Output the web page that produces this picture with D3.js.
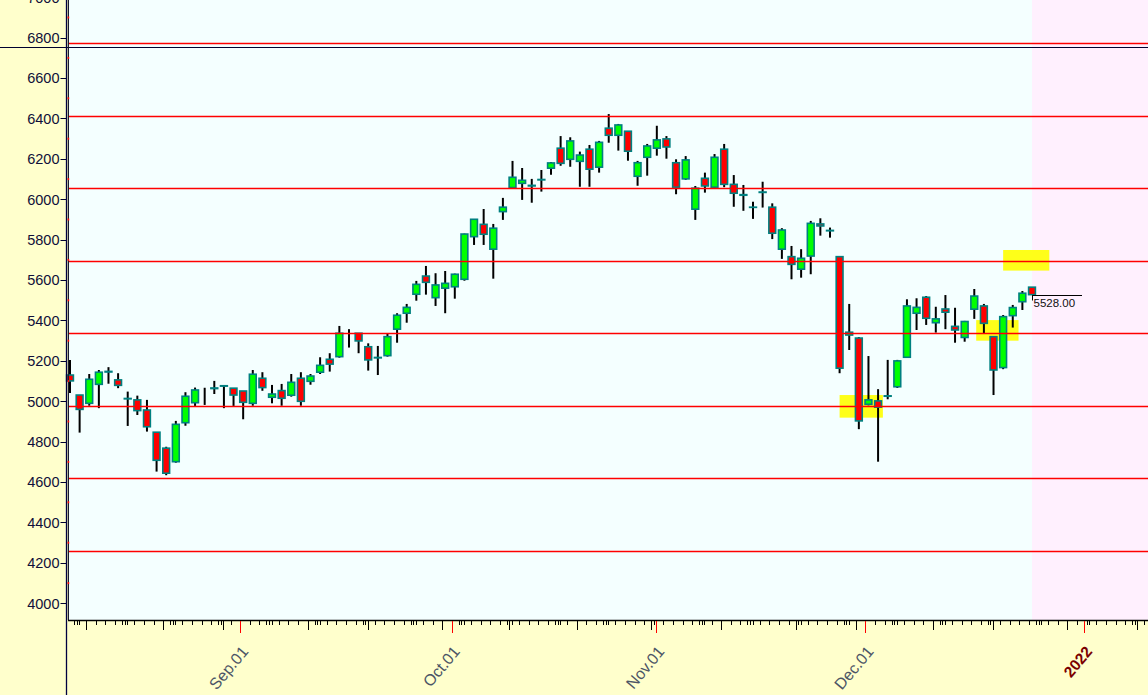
<!DOCTYPE html>
<html><head><meta charset="utf-8">
<script src="https://cdn.jsdelivr.net/npm/d3@7"></script>
<style>html,body{margin:0;padding:0;overflow:hidden;background:#ffffcc}</style>
</head><body><svg id="c" width="1148" height="695"></svg>
<script>
// ---------------- DATA ----------------
const dates = [
 "2021-08-06","2021-08-09","2021-08-10","2021-08-11","2021-08-12","2021-08-13","2021-08-16","2021-08-17","2021-08-18","2021-08-19",
 "2021-08-20","2021-08-23","2021-08-24","2021-08-25","2021-08-26","2021-08-27","2021-08-30","2021-08-31","2021-09-01","2021-09-02",
 "2021-09-03","2021-09-06","2021-09-07","2021-09-08","2021-09-09","2021-09-10","2021-09-13","2021-09-14","2021-09-15","2021-09-16",
 "2021-09-17","2021-09-20","2021-09-21","2021-09-22","2021-09-23","2021-09-24","2021-09-27","2021-09-28","2021-09-29","2021-09-30",
 "2021-10-01","2021-10-04","2021-10-05","2021-10-06","2021-10-07","2021-10-08","2021-10-11","2021-10-12","2021-10-13","2021-10-14",
 "2021-10-15","2021-10-18","2021-10-19","2021-10-20","2021-10-21","2021-10-22","2021-10-25","2021-10-26","2021-10-27","2021-10-28",
 "2021-10-29","2021-11-01","2021-11-02","2021-11-03","2021-11-04","2021-11-05","2021-11-08","2021-11-09","2021-11-10","2021-11-11",
 "2021-11-12","2021-11-15","2021-11-16","2021-11-17","2021-11-18","2021-11-19","2021-11-22","2021-11-23","2021-11-24","2021-11-25",
 "2021-11-26","2021-11-29","2021-11-30","2021-12-01","2021-12-02","2021-12-03","2021-12-06","2021-12-07","2021-12-08","2021-12-09",
 "2021-12-10","2021-12-13","2021-12-14","2021-12-15","2021-12-16","2021-12-17","2021-12-20","2021-12-21","2021-12-22","2021-12-23",
 "2021-12-24"];
const openV = [5130,5031,4990,5084,5148,5106,5014,5007,4957,4847, 4768,4701,4894,4993,5020,5066,5077,5065,5051,4990,
 5114,5020,5053,5030,5114,5099,5144,5208,5221,5300, 5337,5270,5217,5226,5357,5436,5530,5620,5513,5560,
 5567,5604,5815,5876,5753,5939,6058,6079,6069,6098, 6154,6253,6198,6188,6248,6159,6352,6317,6337,6114,
 6208,6253,6299,6181,6101,5951,6104,6060,6248,6074, 6023,5961,6036,5961,5753,5716,5654,5719,5878,5846,
 5716,5328,5313,4985,5002,5027,5072,5218,5436,5515, 5389,5457,5371,5316,5456,5472,5320,5167,5424,5493, 5565];
const highV = [5205,5031,5135,5155,5169,5139,5048,5028,5007,4847, 4775,4903,5045,5068,5067,5101,5077,5065,5051,5155,
 5144,5081,5086,5135,5144,5135,5218,5238,5373,5357, 5337,5287,5274,5337,5436,5482,5596,5670,5634,5645,
 5632,5830,5901,5952,5878,6007,6190,6155,6101,6145, 6185,6313,6307,6236,6269,6289,6422,6373,6337,6190,
 6274,6364,6313,6198,6214,6066,6132,6224,6274,6120, 6071,5988,6087,5980,5857,5769,5753,5893,5906,5860,
 5716,5482,5318,5224,5060,5205,5205,5505,5510,5521, 5468,5526,5463,5398,5556,5482,5320,5427,5477,5546, 5565];
const lowV = [5041,4845,4978,4966,5087,5065,4878,4932,4850,4652, 4634,4696,4879,4977,4982,5036,4966,4977,4911,4978,
 5052,4990,4978,5023,4978,5082,5135,5147,5216,5266, 5238,5152,5130,5221,5290,5389,5498,5528,5472,5436,
 5508,5597,5774,5774,5607,5898,6058,5997,5983,6038, 6122,6166,6161,6062,6062,6132,6280,6241,6191,6067,
 6117,6216,6201,6025,6096,5898,6033,6055,6060,5963, 5943,5903,5959,5803,5705,5604,5612,5629,5820,5810,
 5139,5254,4862,4980,4701,5010,5066,5216,5353,5378, 5340,5357,5290,5295,5408,5333,5031,5159,5365,5452, 5528];
const closeV = [5101,4960,5109,5144,5145,5079,5012,4954,4874,4708, 4644,4886,5025,5056,5020,5063,5075,5031,4995,5134,
 5068,5036,5015,5094,5000,5125,5178,5184,5337,5300, 5299,5205,5215,5320,5426,5465,5579,5589,5576,5584,
 5629,5828,5901,5827,5857,5961,6109,6094,6066,6096, 6180,6178,6289,6219,6149,6282,6317,6368,6238,6181,
 6264,6294,6259,6060,6195,6055,6066,6208,6074,6030, 6020,5960,6034,5832,5848,5678,5708,5881,5868,5844,
 5164,5342,4903,5007,4971,5025,5200,5472,5465,5411, 5408,5441,5353,5395,5521,5386,5155,5419,5464,5535, 5528];

const levels = [6773, 6413, 6054, 5695, 5337, 4978, 4620, 4261];   // horizontal red levels
const crosshairValue = 6754;
const lastPrice = 5528;
const highlightBoxes = [   // [fromIndex, toIndex, low, high]
  [97.0, 101.8, 5647, 5749],
  [94.2, 98.6, 5300, 5402],
  [80.0, 84.5, 4919, 5031]
];
const yTickValues = d3.range(4000, 7001, 200);
const yMinorValues = d3.range(4100, 7000, 200);
const monthLabels = [["2021-09-01","Sep.01"],["2021-10-01","Oct.01"],["2021-11-01","Nov.01"],["2021-12-01","Dec.01"],["2022-01-01","2022"]];

// ---------------- CHART ----------------
const W = 1148, H = 695, AXY = 620;
const svg = d3.select('#c');
const x = d3.scaleLinear().domain([0, 100]).range([70, 1032]);
const y = d3.scaleLinear().domain([3917.3, 6986.6]).range([AXY, 0]);
const parse = d3.utcParse("%Y-%m-%d");
const candles = dates.map((d, i) => ({i, date: parse(d), o: openV[i], h: highV[i], l: lowV[i], c: closeV[i]}));

svg.append('rect').attr('x', 0).attr('y', 0).attr('width', W).attr('height', H).attr('fill', '#ffffcc');
svg.append('rect').attr('x', 69).attr('y', 0).attr('width', W - 69).attr('height', AXY).attr('fill', '#f4ffff');
svg.append('rect').attr('x', x(100)).attr('y', 0).attr('width', W - x(100)).attr('height', AXY).attr('fill', '#fff0fe');

// highlight boxes
svg.append('g').selectAll('rect').data(highlightBoxes).join('rect')
  .attr('x', d => x(d[0])).attr('width', d => x(d[1]) - x(d[0]))
  .attr('y', d => y(d[3])).attr('height', d => y(d[2]) - y(d[3]))
  .attr('fill', '#ffff00').attr('fill-opacity', 0.9);

// candles
const cg = svg.append('g');
cg.selectAll('line').data(candles).join('line')
  .attr('x1', d => x(d.i)).attr('x2', d => x(d.i))
  .attr('y1', d => y(d.h)).attr('y2', d => y(d.l))
  .attr('stroke', '#000').attr('stroke-width', 2);
cg.selectAll('rect').data(candles.filter(d => d.o !== d.c)).join('rect')
  .attr('x', d => x(d.i) - 3.4).attr('width', 6.8)
  .attr('y', d => y(Math.max(d.o, d.c)))
  .attr('height', d => Math.abs(y(d.o) - y(d.c)))
  .attr('fill', d => d.c >= d.o ? '#00ff00' : '#ff0000')
  .attr('stroke', '#008080').attr('stroke-width', 1.6);

// red levels
svg.append('g').selectAll('line').data(levels).join('line')
  .attr('x1', 69).attr('x2', W)
  .attr('y1', d => Math.round(y(d)) + 0.5).attr('y2', d => Math.round(y(d)) + 0.5)
  .attr('stroke', '#ff0000').attr('stroke-width', 1.3);

// last price marker
const lp = svg.append('g');
const ly = Math.round(y(lastPrice)) + 0.5;
lp.append('line').attr('x1', x(100)).attr('x2', x(100) + 50).attr('y1', ly).attr('y2', ly).attr('stroke', '#000').attr('stroke-width', 1);
lp.append('line').attr('x1', x(100) + 0.5).attr('x2', x(100) + 0.5).attr('y1', ly).attr('y2', ly + 5).attr('stroke', '#000').attr('stroke-width', 1);
lp.append('text').attr('x', x(100) + 1.5).attr('y', ly + 11).text(lastPrice.toFixed(2))
  .attr('font-family', 'Liberation Sans, Arial, sans-serif').attr('font-size', 11.5).attr('fill', '#111');

// crosshair
svg.append('line').attr('x1', 0).attr('x2', W).attr('y1', Math.round(y(crosshairValue)) + 0.5).attr('y2', Math.round(y(crosshairValue)) + 0.5)
  .attr('stroke', '#00002e').attr('stroke-width', 1.2);

// y axis
const ya = svg.append('g');
ya.append('line').attr('x1', 66.5).attr('x2', 66.5).attr('y1', 0).attr('y2', H).attr('stroke', '#000040').attr('stroke-width', 1.3);
ya.append('line').attr('x1', 68.4).attr('x2', 68.4).attr('y1', 0).attr('y2', AXY).attr('stroke', '#1a1a2a').attr('stroke-width', 1.2);
ya.selectAll('line.t').data(yTickValues).join('line').attr('class', 't')
  .attr('x1', 60.5).attr('x2', 66).attr('y1', d => Math.round(y(d)) + 0.5).attr('y2', d => Math.round(y(d)) + 0.5)
  .attr('stroke', '#000030').attr('stroke-width', 1);
ya.selectAll('rect.m').data(yMinorValues).join('rect').attr('class', 'm')
  .attr('x', 67.6).attr('width', 1.6).attr('y', d => y(d) - 1).attr('height', 2).attr('fill', '#ff0000');
ya.selectAll('text').data(yTickValues).join('text')
  .attr('x', 59.5).attr('y', d => y(d)).attr('dy', '0.36em').attr('text-anchor', 'end')
  .attr('font-family', 'Liberation Sans Narrow, Arial Narrow, Liberation Sans, sans-serif').attr('font-size', 14.5)
  .attr('fill', '#10103a').text(d => d);

// x axis: calendar ticks on a weekday-compressed scale
const start = parse("2021-08-06");
function weekdayIndex(day) {
  return d3.utcDay.range(start, day).filter(t => t.getUTCDay() !== 0 && t.getUTCDay() !== 6).length;
}
function dayX(day) {
  const dow = day.getUTCDay();
  if (dow === 6) return x(weekdayIndex(d3.utcDay.offset(day, -1))) + 4;
  if (dow === 0) return x(weekdayIndex(d3.utcDay.offset(day, -2))) + 6.5;
  const c = x(weekdayIndex(day));
  return dow === 1 ? c - 0.5 : c - 3;
}
const days = d3.utcDay.range(parse("2021-08-07"), parse("2022-01-16"));
const xa = svg.append('g');
xa.append('line').attr('x1', 68).attr('x2', W).attr('y1', AXY + 0.5).attr('y2', AXY + 0.5).attr('stroke', '#000').attr('stroke-width', 1.5);
xa.selectAll('line.d').data(days.filter(d => dayX(d) > 69.5)).join('line').attr('class', 'd')
  .attr('x1', d => Math.round(dayX(d)) + 0.5).attr('x2', d => Math.round(dayX(d)) + 0.5)
  .attr('y1', AXY + 1)
  .attr('y2', d => AXY + 1 + (d.getUTCDate() === 1 ? 12 : (d.getUTCDate() % 10 === 0 ? 9 : 4)))
  .attr('stroke', d => d.getUTCDate() === 1 ? '#ff0000' : '#000').attr('stroke-width', 1);
xa.selectAll('text').data(monthLabels).join('text')
  .attr('transform', d => `translate(${dayX(parse(d[0])) + 9},652) rotate(-50)`)
  .attr('text-anchor', 'end')
  .attr('font-family', 'Liberation Sans, Arial, sans-serif')
  .attr('font-size', d => d[1] === '2022' ? 15.5 : 16)
  .attr('font-weight', d => d[1] === '2022' ? 'bold' : 'normal')
  .attr('fill', d => d[1] === '2022' ? '#7a0000' : '#4c5566')
  .text(d => d[1]);
</script></body></html>
